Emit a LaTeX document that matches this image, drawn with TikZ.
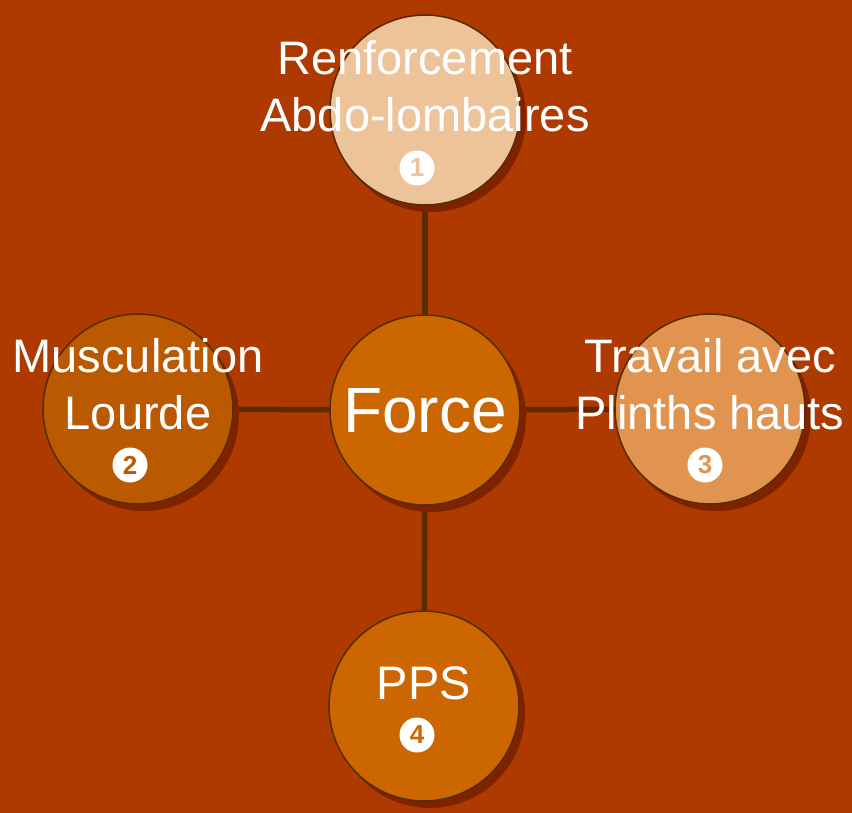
\documentclass[tikz,border=0pt]{standalone}
\usepackage{fontspec}
\setmainfont{Liberation Sans}
\usetikzlibrary{shadows}
\definecolor{bgc}{HTML}{AE3A00}
\definecolor{shc}{HTML}{7F2200}
\definecolor{linec}{HTML}{5A2C00}
\definecolor{peach}{HTML}{EDC39A}
\definecolor{burnt}{HTML}{BB5900}
\definecolor{tan}{HTML}{E0944F}
\definecolor{orng}{HTML}{CC6600}
\pgfdeclarelayer{backdrop}
\pgfdeclarelayer{bglayer}
\pgfsetlayers{backdrop,bglayer,main}
\tikzset{
  bubble/.style={circle, minimum size=190pt, inner sep=0pt, draw=linec, line width=1.6pt,
    copy shadow={shadow xshift=6pt, shadow yshift=-7pt, fill=shc, draw=none}},
  lbl/.style={text=white, align=center, inner sep=0pt, font=\fontsize{47}{57}\selectfont},
  badge/.style={circle, fill=white, minimum size=35pt, inner sep=0pt, font=\fontsize{26}{26}\selectfont\bfseries},
  conn/.style={draw=linec, line width=5.5pt}
}
\begin{document}
\begin{tikzpicture}[x=1pt,y=-1pt]
\useasboundingbox (0,0) rectangle (852,812);
\begin{pgfonlayer}{backdrop}
\fill[bgc] (-3,-3) rectangle (855,815);
\end{pgfonlayer}
\node[bubble, fill=orng] (force) at (425,410) {};
\node[bubble, fill=peach] (top) at (425,110) {};
\node[bubble, fill=burnt] (left) at (138,409) {};
\node[bubble, fill=tan] (right) at (710,409) {};
\node[bubble, fill=orng] (bottom) at (424,706) {};
\begin{pgfonlayer}{bglayer}
\draw[conn] (force.center) -- (top.center);
\draw[conn] (force.center) -- (left.center);
\draw[conn] (force.center) -- (right.center);
\draw[conn] (force.center) -- (bottom.center);
\end{pgfonlayer}
\node[lbl, font=\fontsize{64}{70}\selectfont] (tforce) at (425,411) {Force};
\node[lbl] (ttop) at (425,86) {Renforcement\\Abdo-lombaires};
\node[lbl] (tleft) at (138,384) {Musculation\\Lourde};
\node[lbl] (tright) at (710,384) {Travail avec\\Plinths hauts};
\node[lbl] (tbottom) at (424,683) {PPS};
\node[badge, text=peach] (b1) at (417,168) {1};
\node[badge, text=burnt] (b2) at (130,465) {2};
\node[badge, text=tan] (b3) at (705,465) {3};
\node[badge, text=orng] (b4) at (417,735) {4};
\end{tikzpicture}
\end{document}
